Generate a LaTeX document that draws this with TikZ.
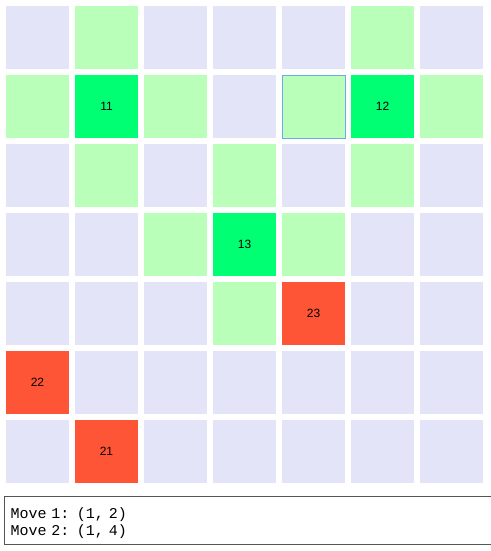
\documentclass[tikz,border=0pt]{standalone}
\usepackage{fontspec}
\setmainfont{Liberation Sans}
\setmonofont{Liberation Mono}
\usepackage{tikz}
\usetikzlibrary{positioning, shadows}

\definecolor{freecol}{RGB}{228,228,248}
\definecolor{reachcol}{RGB}{185,255,185}
\definecolor{minecol}{RGB}{0,255,115}
\definecolor{foecol}{RGB}{255,85,55}
\definecolor{selcol}{RGB}{110,170,240}
\definecolor{logcol}{RGB}{85,85,85}

\begin{document}
\begin{tikzpicture}[
    x=1pt, y=-1pt,
    every node/.style={font=\fontsize{12}{14}\selectfont},
    sq/.style={minimum size=63pt, inner sep=0pt, anchor=center},
    sq_free/.style={fill=freecol},
    sq_reach/.style={fill=reachcol},
    sq_mine/.style={fill=minecol},
    sq_foe/.style={fill=foecol},
    sq_sel/.style={fill=reachcol, draw=selcol, line width=0.9pt,
        drop shadow={opacity=0.18, shadow xshift=0.8pt, shadow yshift=-1.2pt}},
    logbox/.style={draw=logcol, line width=1pt, anchor=north west, align=left,
        minimum height=48pt, inner xsep=6pt, inner ysep=0pt,
        text width=480pt, font=\ttfamily\fontsize{15}{17}\selectfont}
]

    \useasboundingbox (0,0) rectangle (490,551);

    \def\pitch{69}

    % --- board: f = free, g = reachable, m = own piece, e = opponent, s = selected ---
    \foreach \r/\cells in {0/{f,g,f,f,f,g,f},
                           1/{g,m,g,f,s,m,g},
                           2/{f,g,f,g,f,g,f},
                           3/{f,f,g,m,g,f,f},
                           4/{f,f,f,g,e,f,f},
                           5/{e,f,f,f,f,f,f},
                           6/{f,e,f,f,f,f,f}} {
        \foreach \s [count=\c from 0] in \cells {
            \if\s g \def\mystyle{sq_reach} \else
            \if\s m \def\mystyle{sq_mine} \else
            \if\s e \def\mystyle{sq_foe} \else
            \if\s s \def\mystyle{sq_sel} \else \def\mystyle{sq_free} \fi\fi\fi\fi
            \node[sq, \mystyle] (c-\r-\c) at (37.5+\c*\pitch, 37.5+\r*\pitch) {};
        }
    }

    % --- piece numbers ---
    \foreach \r/\c/\n in {1/1/11, 1/5/12, 3/3/13, 6/1/21, 5/0/22, 4/4/23} {
        \node (p\n) at (c-\r-\c) {\n};
    }

    % --- move log ---
    \node[logbox] (log) at (4,496) {\rule{0pt}{17pt}Move 1: (1, 2)\\Move 2: (1, 4)};

\end{tikzpicture}
\end{document}
